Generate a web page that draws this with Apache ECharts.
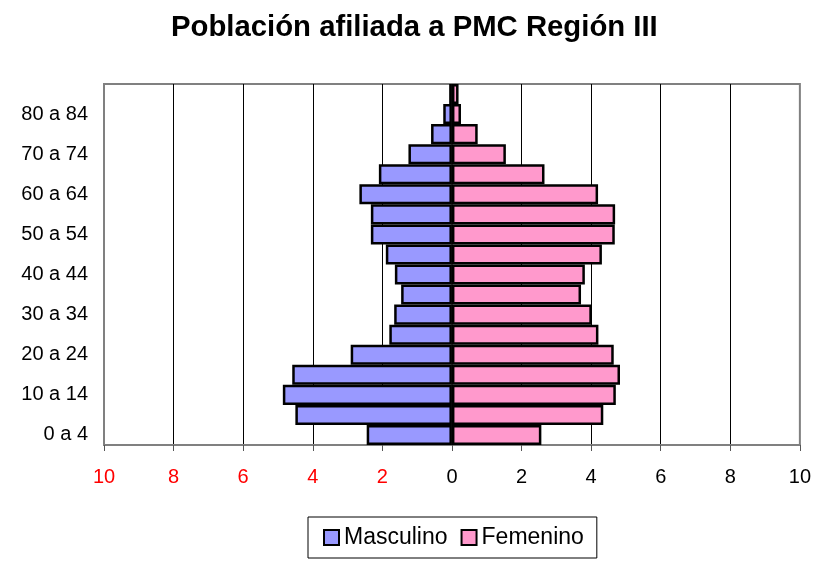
<!DOCTYPE html>
<html>
<head>
<meta charset="utf-8">
<script src="https://cdn.jsdelivr.net/npm/echarts@6/dist/echarts.min.js"></script>
<style>html,body{margin:0;padding:0;background:#fff}#c{width:814px;height:563px}</style>
</head>
<body>
<div id="c"></div>
<script>
const categories = ['0 a 4','5 a 9','10 a 14','15 a 19','20 a 24','25 a 29','30 a 34','35 a 39','40 a 44','45 a 49','50 a 54','55 a 59','60 a 64','65 a 69','70 a 74','75 a 79','80 a 84','85 y más'];
const masculino = [2.45, 4.5, 4.86, 4.59, 2.91, 1.8, 1.66, 1.46, 1.64, 1.9, 2.33, 2.33, 2.66, 2.1, 1.25, 0.6, 0.25, 0.08];
const femenino  = [2.57, 4.35, 4.71, 4.83, 4.65, 4.21, 4.02, 3.71, 3.82, 4.31, 4.68, 4.69, 4.2, 2.66, 1.55, 0.74, 0.26, 0.19];
const xTicks = [-10, -8, -6, -4, -2, 0, 2, 4, 6, 8, 10];

const FONT = '"Liberation Sans", Arial, sans-serif';
const chart = echarts.init(document.getElementById('c'), null, {renderer: 'canvas'});
chart.setOption({
  animation: false,
  backgroundColor: '#fff',
  title: {
    text: 'Población afiliada a PMC Región III',
    left: 166, top: 8,
    textStyle: {fontFamily: FONT, fontSize: 29.3, fontWeight: 'bold', color: '#000'}
  },
  legend: {
    data: ['Masculino', 'Femenino'],
    left: 308, top: 517,
    padding: [9, 13, 9, 15],
    itemGap: 13,
    itemWidth: 15, itemHeight: 15,
    borderColor: '#000', borderWidth: 1,
    icon: 'rect',
    itemStyle: {borderColor: '#000', borderWidth: 2},
    textStyle: {fontFamily: FONT, fontSize: 23, color: '#000'}
  },
  grid: {
    left: 104, right: 14, top: 84, bottom: 118,
    show: true, borderColor: '#808080', borderWidth: 2,
    containLabel: false
  },
  xAxis: {
    type: 'value',
    min: xTicks[0], max: xTicks[xTicks.length - 1], interval: 2,
    axisLine: {show: true, lineStyle: {color: '#808080', width: 2}},
    axisTick: {show: true, length: 6, lineStyle: {color: '#555', width: 1}},
    splitLine: {show: true, showMinLine: false, showMaxLine: false, lineStyle: {color: '#000', width: 1}},
    axisLabel: {
      margin: 22,
      fontFamily: FONT, fontSize: 20, color: '#000',
      formatter: function (v) { return v < 0 ? '{r|' + Math.abs(v) + '}' : String(v); },
      rich: {r: {color: '#ff0000', fontFamily: FONT, fontSize: 20}}
    }
  },
  yAxis: {
    type: 'category',
    data: categories,
    axisLine: {show: true, lineStyle: {color: '#808080', width: 2}},
    axisTick: {show: false},
    splitLine: {show: false},
    axisLabel: {interval: 1, margin: 16, fontFamily: FONT, fontSize: 20, color: '#000'}
  },
  series: [
    {
      name: 'Masculino', type: 'bar', stack: 'p',
      barCategoryGap: '0%',
      data: masculino.map(v => -v),
      itemStyle: {color: '#9999ff', borderColor: '#000', borderWidth: 2.5}
    },
    {
      name: 'Femenino', type: 'bar', stack: 'p',
      barCategoryGap: '0%',
      data: femenino,
      itemStyle: {color: '#ff99cc', borderColor: '#000', borderWidth: 2.5}
    }
  ]
});
</script>
</body>
</html>
